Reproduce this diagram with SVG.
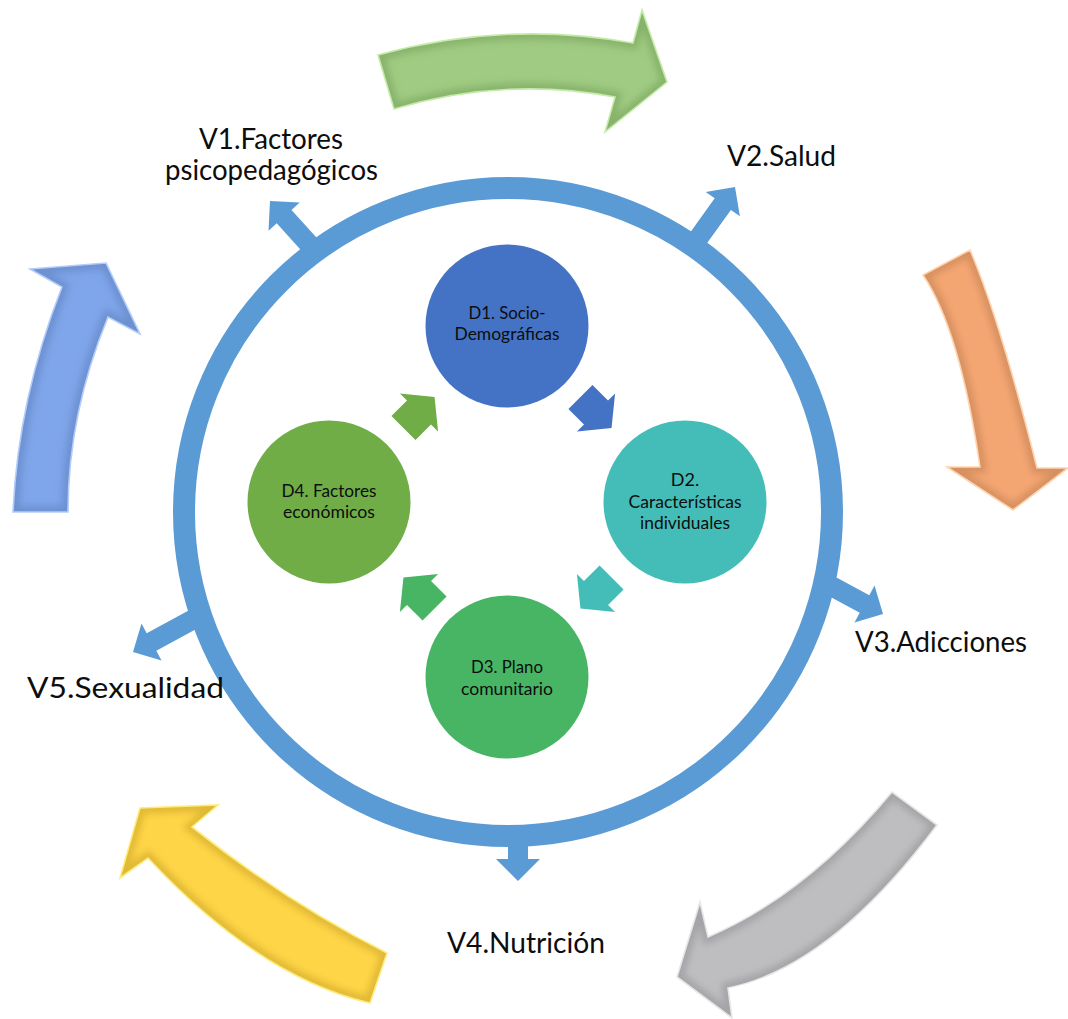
<svg xmlns="http://www.w3.org/2000/svg" xmlns:xlink="http://www.w3.org/1999/xlink" width="1068" height="1019" viewBox="0 0 1068 1019">
<style>
.lbl{font-family:Lato,"Open Sans","Liberation Sans",sans-serif;font-size:28px;fill:#0d0d0d;text-anchor:middle}
.in{font-family:Lato,"Open Sans","Liberation Sans",sans-serif;font-size:18px;fill:#0d0d0d;text-anchor:middle}
.ring{fill:none;stroke:#5B9BD5;stroke-width:22}
.rad{fill:#5B9BD5}
.shade{fill:none;stroke-width:12;stroke-opacity:0.5}
.rim{fill:none;stroke-width:1.6}
</style>
<defs>
<filter id="blur" x="-20%" y="-20%" width="140%" height="140%"><feGaussianBlur stdDeviation="3.5"/></filter>
<path id="pG" d="M378,55 Q505,20 633,43 L642,10 L667,82 L605,132 L615,97 Q505,76 394,109 Z"/>
<path id="pO" d="M923,275 Q960,330 980,467 L947,467 L1013,510 L1068,468 L1037,468 Q1000,320 970,250 Z"/>
<path id="pS" d="M892,792 Q806,895 708,937 L700,902 L677,977 L732,1018 L728,988 Q831,967 937,825 Z"/>
<path id="pY" d="M387,953 Q289,904 192,827 L218,805 L140,808 L120,878 L148,858 Q259,977 370,1003 Z"/>
<path id="pB" d="M13,512 Q18,399 62,287 L30,269 L106,263 L140,334 L108,317 Q68,414 68,512 Z"/>
<clipPath id="cG"><use href="#pG"/></clipPath>
<clipPath id="cO"><use href="#pO"/></clipPath>
<clipPath id="cS"><use href="#pS"/></clipPath>
<clipPath id="cY"><use href="#pY"/></clipPath>
<clipPath id="cB"><use href="#pB"/></clipPath>
<path id="cyc" d="M-22,-17H0V-27L22,0L0,27V17H-22Z"/>
</defs>
<rect width="1068" height="1019" fill="#ffffff"/>

<g id="cycle-arrows">
 <g id="arrow-green">
  <use href="#pG" fill="#9FCB82"/>
  <g clip-path="url(#cG)"><use href="#pG" class="shade" stroke="#6F9B57" filter="url(#blur)"/></g>
  <use href="#pG" class="rim" stroke="#C6EBA8"/>
 </g>
 <g id="arrow-orange">
  <use href="#pO" fill="#F4A672"/>
  <g clip-path="url(#cO)"><use href="#pO" class="shade" stroke="#B97A50" filter="url(#blur)"/></g>
  <use href="#pO" class="rim" stroke="#FFD3AE"/>
 </g>
 <g id="arrow-gray">
  <use href="#pS" fill="#BEBEC1"/>
  <g clip-path="url(#cS)"><use href="#pS" class="shade" stroke="#8B8B90" filter="url(#blur)"/></g>
  <use href="#pS" class="rim" stroke="#E6E6E8"/>
 </g>
 <g id="arrow-yellow">
  <use href="#pY" fill="#FFD548"/>
  <g clip-path="url(#cY)"><use href="#pY" class="shade" stroke="#C29E22" filter="url(#blur)"/></g>
  <use href="#pY" class="rim" stroke="#FFEB7A"/>
 </g>
 <g id="arrow-blue">
  <use href="#pB" fill="#7FA5EA"/>
  <g clip-path="url(#cB)"><use href="#pB" class="shade" stroke="#5A7BB8" filter="url(#blur)"/></g>
  <use href="#pB" class="rim" stroke="#B4CCFA"/>
 </g>
</g>

<g id="ring">
 <circle class="ring" cx="508" cy="512" r="324"/>
</g>

<g id="connectors">
 <polygon class="rad" points="324.4,246.3 291.5,209.9 299.7,202.5 270,201 268.5,230.7 276.7,223.3 309.6,259.7"/>
 <polygon class="rad" points="700.1,252.8 730.9,209.9 739.9,216.3 735,187 705.7,191.9 714.7,198.3 683.9,241.2"/>
 <polygon class="rad" points="817.2,589.8 859.7,612.8 854.5,622.5 883,614 874.5,585.5 869.3,595.2 826.8,572.2"/>
 <polygon class="rad" points="508,830 508,859 496,859 518,881 540,859 528,859 528,830"/>
 <polygon class="rad" points="198.2,605.2 146.7,633.2 141.5,623.5 133,652 161.5,660.5 156.3,650.8 207.8,622.8"/>
 <use href="#cyc" fill="#4472C4" transform="translate(596,412.5) rotate(45)"/>
 <use href="#cyc" fill="#44BDB8" transform="translate(596,593) rotate(135)"/>
 <use href="#cyc" fill="#48B565" transform="translate(419,593) rotate(225)"/>
 <use href="#cyc" fill="#70AD47" transform="translate(419,412.5) rotate(315)"/>
</g>

<g id="D1">
 <circle cx="507" cy="326" r="81.5" fill="#4472C4"/>
 <text class="in" x="507" y="319" textLength="77" lengthAdjust="spacingAndGlyphs">D1. Socio-</text>
 <text class="in" x="507" y="340" textLength="105" lengthAdjust="spacingAndGlyphs">Demográficas</text>
</g>
<g id="D2">
 <circle cx="685" cy="502" r="81.5" fill="#44BDB8"/>
 <text class="in" x="685" y="486">D2.</text>
 <text class="in" x="685" y="508" textLength="113" lengthAdjust="spacingAndGlyphs">Características</text>
 <text class="in" x="685" y="529" textLength="90" lengthAdjust="spacingAndGlyphs">individuales</text>
</g>
<g id="D3">
 <circle cx="507" cy="677" r="81.5" fill="#48B565"/>
 <text class="in" x="507" y="673" textLength="72" lengthAdjust="spacingAndGlyphs">D3. Plano</text>
 <text class="in" x="507" y="695" textLength="92" lengthAdjust="spacingAndGlyphs">comunitario</text>
</g>
<g id="D4">
 <circle cx="329" cy="502" r="81.5" fill="#70AD47"/>
 <text class="in" x="329" y="497" textLength="95" lengthAdjust="spacingAndGlyphs">D4. Factores</text>
 <text class="in" x="329" y="518" textLength="92" lengthAdjust="spacingAndGlyphs">económicos</text>
</g>

<g id="V1">
 <text class="lbl" x="271" y="149" textLength="144" lengthAdjust="spacingAndGlyphs">V1.Factores</text>
 <text class="lbl" x="271.5" y="180" textLength="213" lengthAdjust="spacingAndGlyphs">psicopedagógicos</text>
</g>
<g id="V2"><text class="lbl" x="781.5" y="166" textLength="109" lengthAdjust="spacingAndGlyphs">V2.Salud</text></g>
<g id="V3"><text class="lbl" x="941" y="652" textLength="172" lengthAdjust="spacingAndGlyphs">V3.Adicciones</text></g>
<g id="V4"><text class="lbl" x="526" y="953" textLength="158" lengthAdjust="spacingAndGlyphs">V4.Nutrición</text></g>
<g id="V5"><text class="lbl" x="125.5" y="698" textLength="197" lengthAdjust="spacingAndGlyphs">V5.Sexualidad</text></g>
</svg>
